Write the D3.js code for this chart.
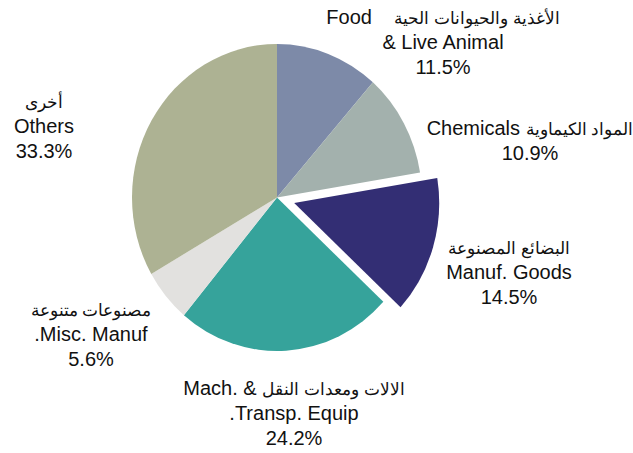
<!DOCTYPE html>
<html>
<head>
<meta charset="utf-8">
<script src="https://cdn.jsdelivr.net/npm/d3@7"></script>
<style>
  body { margin: 0; background: #fff; }
  text { font-family: "Liberation Sans", Arial, sans-serif; fill: #111; }
</style>
</head>
<body>
<div id="chart"></div>
<script>
// data
const categories = ["Food", "Chemicals", "Manuf. Goods", "Mach. & Transp. Equip.", "Misc. Manuf.", "Others"];
const shares = [11.5, 10.9, 14.5, 24.2, 5.6, 33.3];
const colors = ["#7d8aa8", "#a3b1ad", "#332e74", "#36a39b", "#e2e1df", "#adb293"];
const labelLines = [
    ["Food\u00a0\u00a0\u00a0 الأغذية والحيوانات الحية", "& Live Animal"],
    ["Chemicals المواد الكيماوية"],
    ["البضائع المصنوعة", "Manuf. Goods"],
    ["Mach. & الالات ومعدات النقل", ".Transp. Equip"],
    ["مصنوعات متنوعة", ".Misc. Manuf"],
    ["أخرى", "Others"]
];
const exploded = "Manuf. Goods";

// layout
const width = 633, height = 453;
const cx = 277, cy = 197.5;
const ry = 153.5, rx = 145;
const explode = 19;
const lineH = 24.8;
// x centre and first baseline of each label block
const labelAnchor = [[443, 24], [530, 135], [509, 254], [294, 395], [91, 316], [44, 108]];

const svg = d3.select("#chart").append("svg")
    .attr("width", width)
    .attr("height", height);

const pie = d3.pie().sort(null).value(d => d)(shares);
const arc = d3.arc().innerRadius(0).outerRadius(ry);

const g = svg.append("g")
    .attr("transform", `translate(${cx},${cy}) scale(${rx / ry},1)`);

g.selectAll("path")
    .data(pie)
    .join("path")
    .attr("fill", (d, i) => colors[i])
    .attr("d", arc)
    .attr("transform", (d, i) => {
        if (categories[i] !== exploded) return null;
        const a = (d.startAngle + d.endAngle) / 2;
        return `translate(${explode * Math.sin(a)},${-explode * Math.cos(a)})`;
    });

// labels: arabic runs get a smaller size so the widths match
const arabicRun = /([\u0600-\u06FF][\u0600-\u06FF\s]*[\u0600-\u06FF]|[\u0600-\u06FF])/;

const labels = svg.append("g").selectAll("text")
    .data(pie)
    .join("text")
    .attr("text-anchor", "middle")
    .attr("font-size", 20)
    .attr("x", (d, i) => labelAnchor[i][0])
    .attr("y", (d, i) => labelAnchor[i][1]);

labels.each(function (d, i) {
    const t = d3.select(this);
    const lines = labelLines[i].concat([d3.format(".1f")(shares[i]) + "%"]);
    lines.forEach((l, j) => {
        const parts = l.split(arabicRun).filter(p => p.length);
        parts.forEach((p, k) => {
            const ts = t.append("tspan").text(p);
            if (k === 0) {
                ts.attr("x", labelAnchor[i][0]).attr("dy", j === 0 ? 0 : lineH);
            }
            if (arabicRun.test(p)) ts.attr("font-size", 17);
        });
    });
});
</script>
</body>
</html>
